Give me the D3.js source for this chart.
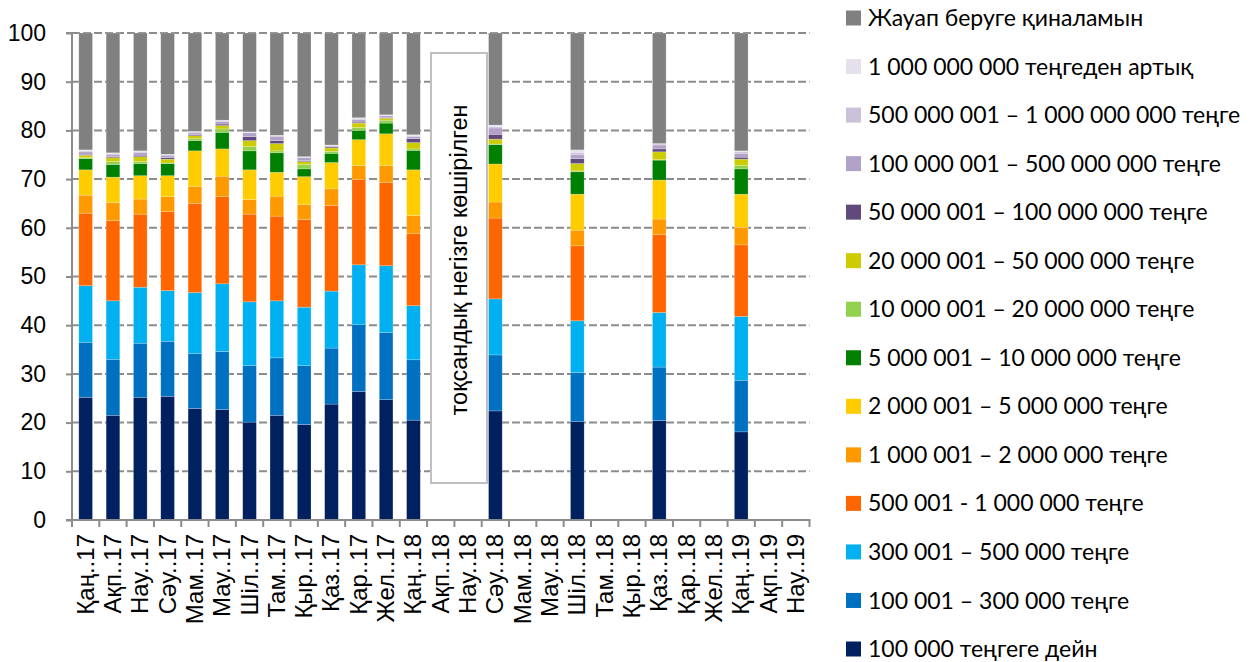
<!DOCTYPE html>
<html>
<head>
<meta charset="utf-8">
<script src="https://cdn.jsdelivr.net/npm/d3@7"></script>
<style>
  html, body { margin: 0; padding: 0; background: #fff; }
  svg { display: block; }
</style>
</head>
<body>
<svg id="chart" width="1256" height="662"></svg>
<script>
// ---- Data ----
const categories = ["Қаң..17","Ақп..17","Нау..17","Сәу..17","Мам..17","Мау..17","Шіл..17","Там..17","Қыр..17","Қаз..17","Қар..17","Жел..17",
  "Қаң..18","Ақп..18","Нау..18","Сәу..18","Мам..18","Мау..18","Шіл..18","Там..18","Қыр..18","Қаз..18","Қар..18","Жел..18",
  "Қаң..19","Ақп..19","Нау..19"];

const seriesNames = [
  "100 000 теңгеге дейн",
  "100 001 – 300 000 теңге",
  "300 001 – 500 000 теңге",
  "500 001  - 1 000 000 теңге",
  "1 000 001 – 2 000 000 теңге",
  "2 000 001 – 5 000 000 теңге",
  "5 000 001 – 10 000 000 теңге",
  "10 000 001 – 20 000 000 теңге",
  "20 000 001 – 50 000 000 теңге",
  "50 000 001 – 100 000 000 теңге",
  "100 000 001 – 500 000 000 теңге",
  "500 000 001 – 1 000 000 000 теңге",
  "1 000 000 000 теңгеден артық",
  "Жауап беруге қиналамын"
];

const seriesColors = ["#002060","#0070c0","#00b0f0","#ff6600","#ff9900","#ffcc00","#008000",
  "#92d050","#cccc00","#604a7b","#b3a2c7","#ccc1da","#e6e0ec","#808080"];

// values per series, one entry per category (null = no survey that month)
const s_upTo100k   = [25.2,21.5,25.2,25.4,22.9,22.7,20.1,21.5,19.6,23.8,26.4,24.7,20.5,null,null,22.4,null,null,20.2,null,null,20.4,null,null,18.1,null,null];
const s_100k_300k  = [11.3,11.5,11.1,11.3,11.3,11.9,11.6,11.8,12.1,11.5,13.7,13.8,12.4,null,null,11.5,null,null,10.1,null,null,11.0,null,null,10.6,null,null];
const s_300k_500k  = [11.6,12.0,11.5,10.4,12.5,13.9,13.1,11.7,12.0,11.7,12.3,13.7,11.1,null,null,11.5,null,null,10.6,null,null,11.2,null,null,13.1,null,null];
const s_500k_1m    = [14.9,16.5,15.0,16.2,18.3,17.9,18.0,17.4,18.0,17.6,17.5,17.1,14.8,null,null,16.6,null,null,15.4,null,null,16.0,null,null,14.7,null,null];
const s_1m_2m      = [3.7,3.7,3.1,3.1,3.5,4.2,3.0,4.1,3.1,3.4,2.9,3.5,3.7,null,null,3.3,null,null,3.2,null,null,3.2,null,null,3.6,null,null];
const s_2m_5m      = [5.2,5.2,4.8,4.3,7.3,5.6,6.1,4.9,5.7,5.4,5.3,6.5,9.4,null,null,7.8,null,null,7.4,null,null,8.0,null,null,6.8,null,null];
const s_5m_10m     = [2.3,2.6,2.5,2.5,2.1,3.4,3.9,4.0,1.6,1.9,1.9,2.2,4.0,null,null,4.0,null,null,4.6,null,null,4.1,null,null,5.2,null,null];
const s_10m_20m    = [0.2,0.6,0.4,0.1,0.4,0.7,0.9,0.4,0.9,0.4,0.6,0.6,0.3,null,null,0.1,null,null,0.2,null,null,0.1,null,null,0.7,null,null];
const s_20m_50m    = [0.5,0.8,1.0,0.8,0.6,0.7,1.2,1.5,0.6,0.7,0.9,0.4,1.3,null,null,1.0,null,null,1.5,null,null,1.6,null,null,1.3,null,null];
const s_50m_100m   = [0.2,0.2,0.3,0.3,0.2,0.3,0.8,0.6,0.2,0.2,0.2,0.1,0.8,null,null,1.0,null,null,1.0,null,null,0.6,null,null,0.4,null,null];
const s_100m_500m  = [0.5,0.5,0.6,0.5,0.4,0.5,0.8,0.9,0.6,0.2,0.5,0.4,0.4,null,null,1.3,null,null,0.8,null,null,0.8,null,null,0.8,null,null];
const s_500m_1b    = [0.2,0.2,0.2,0.1,0.2,0.2,0.1,0.1,0.1,0.1,0.3,0.1,0.2,null,null,0.3,null,null,0.5,null,null,0.2,null,null,0.3,null,null];
const s_over1b     = [0.2,0.1,0.1,0.1,0.1,0.1,0.1,0.1,0.1,0.1,0.1,0.1,0.2,null,null,0.3,null,null,0.5,null,null,0.1,null,null,0.2,null,null];
const s_dontKnow   = [24.0,24.6,24.2,24.9,20.2,17.9,20.3,21.0,25.4,23.0,17.4,16.8,20.9,null,null,18.9,null,null,24.0,null,null,22.7,null,null,24.2,null,null];

const seriesValues = [s_upTo100k,s_100k_300k,s_300k_500k,s_500k_1m,s_1m_2m,s_2m_5m,s_5m_10m,
  s_10m_20m,s_20m_50m,s_50m_100m,s_100m_500m,s_500m_1b,s_over1b,s_dontKnow];

const yTicks = [0,10,20,30,40,50,60,70,80,90,100];
const noteText = "тоқсандық негізге көшірілген";

// ---- Layout ----
const svg = d3.select("#chart");
const plot = { left: 72, right: 809.5, top: 33, bottom: 520 };

const x = d3.scaleBand().domain(categories).range([plot.left, plot.right]).paddingInner(0.5).paddingOuter(0.25);
const xEdges = d3.scaleBand().domain(categories).range([plot.left, plot.right]).padding(0);
const y = d3.scaleLinear().domain([0, 100]).range([plot.bottom, plot.top]);

// gridlines
svg.append("g").selectAll("line").data(yTicks.filter(d => d > 0)).join("line")
  .attr("x1", plot.left).attr("x2", plot.right)
  .attr("y1", d => y(d)).attr("y2", d => y(d))
  .attr("stroke", "#8c8c8c").attr("stroke-width", 2).attr("stroke-dasharray", "8,3");

// build stacked table
const table = categories.map((c, i) => {
  const row = { cat: c };
  seriesNames.forEach((s, k) => row[s] = seriesValues[k][i] == null ? 0 : seriesValues[k][i]);
  return row;
});
const stack = d3.stack().keys(seriesNames)(table);

const barsG = svg.append("g");
stack.forEach((layer, k) => {
  barsG.append("g").attr("fill", seriesColors[k])
    .selectAll("rect").data(layer.filter(d => d[1] - d[0] > 0)).join("rect")
    .attr("x", d => x(d.data.cat))
    .attr("width", x.bandwidth())
    .attr("y", d => y(d[1]))
    .attr("height", d => y(d[0]) - y(d[1]))
    .attr("stroke", "rgba(255,255,255,0.35)").attr("stroke-width", 0.6);
});

// y axis
const yAxis = d3.axisLeft(y).tickValues(yTicks).tickSize(6).tickPadding(20);
const yg = svg.append("g").attr("transform", `translate(${plot.left},0)`).call(yAxis);
yg.select(".domain").attr("stroke", "#8c8c8c").attr("stroke-width", 2).attr("d", `M-6,${plot.top}H0V${plot.bottom}H-6`);
yg.selectAll(".tick line").attr("stroke", "#8c8c8c").attr("stroke-width", 2);
yg.selectAll(".tick text").attr("font-family", "Liberation Sans, Arial, sans-serif").attr("font-size", 23).attr("fill", "#000");

// x axis
const xg = svg.append("g").attr("transform", `translate(0,${plot.bottom})`);
xg.append("line").attr("x1", plot.left - 6).attr("x2", plot.right + 1).attr("y1", 0).attr("y2", 0)
  .attr("stroke", "#8c8c8c").attr("stroke-width", 2);
xg.selectAll("line.tk").data(categories.concat(["__end"])).join("line").attr("class", "tk")
  .attr("x1", (d, i) => i < categories.length ? xEdges(d) : plot.right)
  .attr("x2", (d, i) => i < categories.length ? xEdges(d) : plot.right)
  .attr("y1", 0).attr("y2", 7).attr("stroke", "#8c8c8c").attr("stroke-width", 2);
xg.selectAll("text").data(categories).join("text")
  .attr("transform", d => `translate(${x(d) + x.bandwidth() / 2 + 8},14) rotate(-90)`)
  .attr("text-anchor", "end")
  .attr("font-family", "Liberation Sans, Arial, sans-serif").attr("font-size", 24).attr("fill", "#000")
  .text(d => d);

// note box
svg.append("rect").attr("x", 431).attr("y", 53).attr("width", 56).attr("height", 430)
  .attr("fill", "#fff").attr("stroke", "#c0c0c0").attr("stroke-width", 2);
svg.append("text").attr("transform", "translate(467,260) rotate(-90)")
  .attr("text-anchor", "middle")
  .attr("font-family", "Liberation Sans, Arial, sans-serif").attr("font-size", 23.5).attr("fill", "#000")
  .text(noteText);

// legend (top to bottom: reverse series order)
const legendItems = seriesNames.map((n, k) => ({ name: n, color: seriesColors[k] })).reverse();
const lg = svg.append("g");
const legY = d3.scalePoint().domain(legendItems.map(d => d.name)).range([18, 649]);
const item = lg.selectAll("g").data(legendItems).join("g")
  .attr("transform", d => `translate(846,${legY(d.name)})`);
item.append("rect").attr("x", 0).attr("y", -7.5).attr("width", 15).attr("height", 15).attr("fill", d => d.color);
item.append("text").attr("x", 22).attr("y", 0).attr("dy", "0.35em")
  .attr("font-family", "Lato, sans-serif").attr("font-size", 23).attr("fill", "#000")
  .text(d => d.name);
</script>
</body>
</html>
